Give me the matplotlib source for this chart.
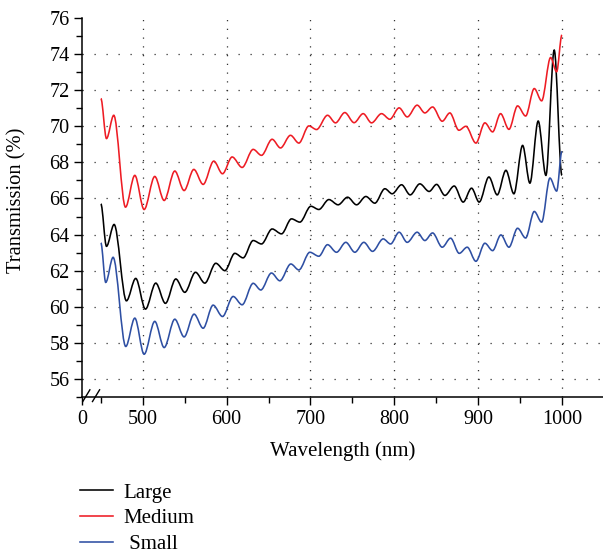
import numpy as np
import matplotlib
matplotlib.use('Agg')
import matplotlib.pyplot as plt
from matplotlib.path import Path
from matplotlib.patches import PathPatch
from matplotlib.lines import Line2D
from matplotlib.ticker import MultipleLocator, FixedLocator
import matplotlib.transforms as mtransforms

plt.rcParams['font.family'] = ['Liberation Serif', 'DejaVu Serif']

# peaks / troughs (nm, %)
large_wl = [450, 456.7, 465.8, 480.5, 491.6, 503.2, 515.5, 527, 539.4, 550.1, 562.9, 574,
            587.1, 597.9, 609.8, 619.7, 631.7, 641.6, 654.3, 665.5, 677.4, 687.4, 700.5, 710,
            722, 733, 744.3, 755, 766.1, 776.8, 788.8, 797.5, 808.7, 819, 830.5, 841.6,
            850.5, 860.4, 871.5, 882.2, 892.2, 901.3, 912.9, 922.8, 933.2, 942.7, 953.1,
            961.8, 971.7, 980.9, 990.8, 1000]
large_tr = [65.7, 63.35, 64.56, 60.33, 61.57, 59.87, 61.31, 60.19, 61.54, 60.80, 61.91, 61.31,
            62.41, 62.0, 62.96, 62.71, 63.67, 63.48, 64.31, 64.04, 64.87, 64.69, 65.57, 65.39,
            65.94, 65.65, 66.07, 65.65, 66.11, 65.74, 66.54, 66.26, 66.76, 66.2, 66.81, 66.39,
            66.78, 66.17, 66.69, 65.80, 66.57, 65.80, 67.19, 66.2, 67.56, 66.26, 68.94,
            66.85, 70.29, 67.28, 74.22, 67.28]

medium_wl = [450, 456.7, 465.4, 479.4, 490.5, 501.6, 514.3, 525.5, 538.2, 549.3, 560.9, 572,
             584.7, 595.1, 606.6, 618.5, 631.7, 641.6, 654.3, 664.3, 676.2, 686.2, 698.1, 707.3,
             720.4, 729.9, 741, 752.1, 762.9, 772.9, 784.8, 794.7, 805.8, 815.5, 827.3, 836.5,
             845.7, 857.2, 866.3, 877.1, 885.4, 897.4, 908.1, 917.3, 926.8, 936.8, 947.1,
             956.7, 967, 975.8, 986.5, 993.7, 1000]
medium_tr = [71.54, 69.32, 70.61, 65.52, 67.28, 65.39, 67.22, 65.89, 67.52, 66.44, 67.61, 66.78,
             68.07, 67.37, 68.30, 67.72, 68.72, 68.39, 69.28, 68.80, 69.5, 69.07, 70.02, 69.82,
             70.61, 70.19, 70.76, 70.2, 70.70, 70.19, 70.7, 70.39, 71.02, 70.52, 71.17, 70.74,
             71.07, 70.28, 70.74, 69.78, 70.0, 69.07, 70.19, 69.69, 70.70, 69.83, 71.13,
             70.57, 72.09, 71.41, 73.81, 73.02, 75.06]

small_wl = [450, 455.8, 464.6, 479.7, 490.5, 501.6, 514.3, 525.5, 538.2, 549.3, 561.2, 572,
            583.9, 595.1, 607.8, 618.5, 631.7, 640.8, 653.5, 663.5, 676.6, 686.2, 699.3, 710,
            720.4, 731.1, 742.2, 753, 763.7, 774.1, 786.8, 795.6, 805.8, 815.4, 827.3, 836.5,
            845.7, 857.2, 867.2, 877.5, 887, 897.4, 908.1, 917.3, 927.2, 936.8, 947.1,
            956.7, 967, 975.8, 985.7, 993.7, 1000]
small_tr = [63.54, 61.35, 62.74, 57.8, 59.37, 57.37, 59.19, 57.74, 59.31, 58.33, 59.59, 58.81,
            60.09, 59.46, 60.57, 60.11, 61.3, 60.93, 61.87, 61.44, 62.37, 62.04, 63.02, 62.80,
            63.44, 63.02, 63.57, 63.02, 63.57, 63.07, 63.76, 63.48, 64.13, 63.57, 64.13, 63.67,
            64.09, 63.30, 63.80, 62.96, 63.30, 62.52, 63.52, 63.11, 63.98, 63.30, 64.35,
            63.81, 65.28, 64.69, 67.13, 66.41, 68.61]

labels = ['Large', 'Medium', ' Small']
colors = ['#000000', '#ee1c24', '#2e4fa3']

x_ticks = [428, 500, 600, 700, 800, 900, 1000]
x_ticklabels = ['0', '500', '600', '700', '800', '900', '1000']


def smooth_path(xs, ys):
    # cubic segments with flat tangents at each peak / trough
    verts = [(xs[0], ys[0])]
    codes = [Path.MOVETO]
    for i in range(1, len(xs)):
        dx = (xs[i] - xs[i - 1]) / 3.0
        verts += [(xs[i - 1] + dx, ys[i - 1]), (xs[i] - dx, ys[i]), (xs[i], ys[i])]
        codes += [Path.CURVE4] * 3
    return Path(verts, codes)


fig = plt.figure(figsize=(6.03, 5.54), dpi=100)
ax = fig.add_axes([82 / 603, 1 - 397 / 554, 1 - 82 / 603, 379 / 554])

series = [(large_wl, large_tr), (medium_wl, medium_tr), (small_wl, small_tr)]
for (wl, tr), c in zip(series, colors):
    ax.add_patch(PathPatch(smooth_path(wl, tr), facecolor='none', edgecolor=c, lw=1.15))

ax.set_xlim(427.5, 1049)
ax.set_ylim(55, 76)

ax.xaxis.set_major_locator(FixedLocator(x_ticks))
ax.set_xticklabels(x_ticklabels)
ax.xaxis.set_minor_locator(FixedLocator([450, 550, 650, 750, 850, 950]))
ax.yaxis.set_major_locator(MultipleLocator(2))
ax.yaxis.set_minor_locator(MultipleLocator(1))

ax.tick_params(which='major', direction='out', length=6, width=1.0, labelsize=14.5, pad=3)
ax.tick_params(which='minor', direction='out', length=4, width=1.0)

for s in ['top', 'right']:
    ax.spines[s].set_visible(False)
ax.spines['left'].set_linewidth(1.1)
ax.spines['bottom'].set_linewidth(1.1)

# dotted grid
for v in range(56, 76, 2):
    ax.axhline(v, color='#333333', lw=0.9, linestyle=(0, (1, 8.6)), zorder=0)
for v in x_ticks[1:]:
    ax.axvline(v, color='#333333', lw=0.9, linestyle=(0, (1, 6)), zorder=0)

# axis break marks
trans = mtransforms.blended_transform_factory(ax.transData, ax.transAxes)
for x0 in [428.4, 440.0]:
    ax.plot([x0, x0 + 8.5], [-0.012, 0.019], color='black', lw=1.0,
            transform=trans, clip_on=False)

ax.set_xlabel('Wavelength (nm)', fontsize=15, labelpad=9)
ax.set_ylabel('Transmission (%)', fontsize=14.8)
ax.yaxis.set_label_coords(-0.106, 0.52)

handles = [Line2D([], [], color=c, lw=1.15) for c in colors]
fig.legend(handles, labels, loc='upper left', bbox_to_anchor=(80 / 603, 1 - 483 / 554),
           frameon=False, fontsize=15, handlelength=1.6, handletextpad=0.5,
           labelspacing=0.3, borderpad=0, borderaxespad=0)

fig.savefig('out.png', dpi=100)
